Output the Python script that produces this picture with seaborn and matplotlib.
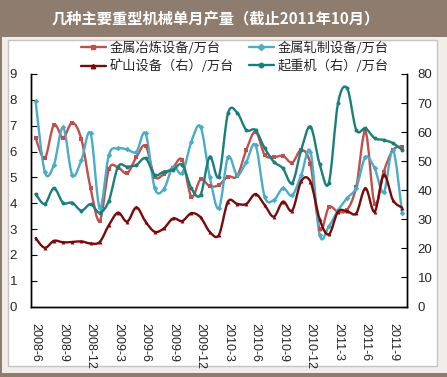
import numpy as np
import pandas as pd
import seaborn as sns
import matplotlib.pyplot as plt
from matplotlib.path import Path
from matplotlib.patches import PathPatch, Rectangle
from matplotlib.lines import Line2D

# monthly values, 2008-6 .. 2011-10
months = [f"{p.year}-{p.month}" for p in pd.period_range("2008-06", "2011-10", freq="M")]

smelting = [6.53, 5.74, 7.03, 6.53, 7.12, 6.47, 4.58, 3.32, 5.31, 5.38,
            5.16, 5.78, 6.22, 5.03, 5.12, 5.38, 5.68, 4.25, 4.92, 4.66,
            4.70, 5.03, 5.05, 6.06, 6.77, 5.87, 5.78, 5.83, 5.57, 6.06,
            5.50, 2.99, 3.84, 3.67, 3.74, 4.64, 6.77, 3.96, 5.22, 6.06, 6.19]
rolling = [7.95, 5.22, 5.48, 6.94, 5.09, 5.67, 6.70, 3.82, 5.87, 6.12,
           6.08, 5.99, 6.70, 4.58, 4.55, 5.41, 5.16, 6.38, 6.96, 5.03,
           3.80, 5.78, 5.09, 5.60, 6.25, 4.25, 4.12, 4.58, 4.30, 5.10,
           5.99, 2.77, 3.10, 3.72, 4.20, 4.60, 5.78, 5.35, 4.42, 6.06, 3.62]
mining = [23.5, 20.2, 22.6, 22.1, 22.2, 22.4, 21.7, 22.2, 28.0, 32.3,
          29.2, 34.1, 29.2, 25.7, 26.9, 30.3, 29.4, 32.1, 30.7, 25.7,
          24.6, 36.1, 35.3, 35.3, 38.7, 34.9, 30.9, 36.1, 33.0, 43.2,
          42.9, 30.0, 24.8, 32.6, 32.8, 32.1, 40.7, 32.6, 45.3, 36.6, 34.0]
crane = [38.7, 35.3, 40.7, 35.7, 35.7, 33.0, 35.2, 32.3, 36.4, 48.1,
         48.1, 48.7, 51.0, 45.3, 46.4, 47.0, 48.8, 40.7, 38.4, 51.5,
         44.7, 66.5, 66.7, 60.7, 60.7, 54.5, 49.8, 47.5, 42.5, 54.0,
         61.9, 49.0, 42.5, 69.9, 75.1, 60.7, 61.3, 57.9, 57.3, 56.2, 53.9]

labels = ["金属冶炼设备/万台", "金属轧制设备/万台", "矿山设备（右）/万台", "起重机（右）/万台"]
colors = ["#C0504D", "#4BACC6", "#7A0A0A", "#1A7F7C"]
markers = ["s", "D", "^", "o"]

df = pd.DataFrame({"month": months, "idx": np.arange(len(months)),
                   "smelting": smelting, "rolling": rolling,
                   "mining": mining, "crane": crane})


def smooth_patch(x, y, color):
    # Excel-like smoothed line: cubic bezier through every point
    x = np.asarray(x, float)
    y = np.asarray(y, float)
    pts = np.column_stack([x, y])
    ext = np.vstack([pts[0], pts, pts[-1]])
    verts = [pts[0]]
    codes = [Path.MOVETO]
    for i in range(len(pts) - 1):
        p0, p1, p2, p3 = ext[i], ext[i + 1], ext[i + 2], ext[i + 3]
        verts += [p1 + (p2 - p0) / 6, p2 - (p3 - p1) / 6, p2]
        codes += [Path.CURVE4] * 3
    return PathPatch(Path(verts, codes), fc="none", ec=color, lw=1.7,
                     capstyle="round", joinstyle="round")


sns.set_theme(style="white")
plt.rcParams["font.family"] = ["Liberation Sans", "Noto Sans CJK SC", "DejaVu Sans"]
cjk = ["Noto Sans CJK SC", "DejaVu Sans"]

fig = plt.figure(figsize=(4.47, 3.77), dpi=100)
fig.patch.set_facecolor("#f1eee9")
W, H = 447, 377
# frame pieces
fig.add_artist(Rectangle((0, 1 - 37 / H), 1, 37 / H, transform=fig.transFigure,
                         fc="#8e7c6e", ec="none", zorder=0))
fig.add_artist(Rectangle((8 / W, 1 - 366 / H), 429 / W, 326 / H, transform=fig.transFigure,
                         fc="white", ec="#c4c4c4", lw=1, zorder=0))
fig.add_artist(Rectangle((0, 0), 1, 4 / H, transform=fig.transFigure,
                         fc="#8e7c6e", ec="none", zorder=0))
fig.add_artist(Rectangle((0, 0), 2 / W, 1, transform=fig.transFigure,
                         fc="#8e7c6e", ec="none", zorder=0))

fig.text(216 / W, 1 - 19 / H, "几种主要重型机械单月产量（截止2011年10月）",
         color="white", fontsize=11, fontweight="bold", family=cjk,
         ha="center", va="center")

ax = fig.add_axes([31 / W, 1 - 306.5 / H, 375.7 / W, 232.5 / H])
ax.set_facecolor("none")
ax2 = ax.twinx()

for col, c, m in [("smelting", colors[0], markers[0]), ("rolling", colors[1], markers[1])]:
    ax.add_patch(smooth_patch(df["idx"], df[col], c))
    sns.scatterplot(data=df, x="idx", y=col, ax=ax, color=c, marker=m, s=8,
                    linewidth=0, zorder=3)
for col, c, m in [("mining", colors[2], markers[2]), ("crane", colors[3], markers[3])]:
    ax2.add_patch(smooth_patch(df["idx"], df[col], c))
    sns.scatterplot(data=df, x="idx", y=col, ax=ax2, color=c, marker=m, s=8,
                    linewidth=0, zorder=3)

ax.set_xlim(-0.5, len(months) - 0.5)
ax.set_ylim(0, 9)
ax2.set_ylim(0, 80)
ax.set_yticks(range(0, 10))
ax2.set_yticks(range(0, 81, 10))
ax.set_xticks(np.arange(-0.5, len(months), 1))
ax.set_xticklabels([])
ax.set_xticks(np.arange(0, len(months), 3), minor=True)
ax.set_xticklabels(months[::3], minor=True, rotation=270, fontsize=9)
ax.set_xlabel("")
ax.set_ylabel("")
ax2.set_ylabel("")

ax.tick_params(axis="x", which="major", direction="in", length=4, width=0.8, color="black")
ax.tick_params(axis="x", which="minor", length=0, pad=12)
ax.tick_params(axis="y", direction="in", length=4, width=0.8, color="black",
               labelsize=9.5, pad=10, left=True)
ax2.tick_params(axis="y", direction="in", length=4, width=0.8, color="black",
                labelsize=9.5, pad=8, right=True)

for a in (ax, ax2):
    a.spines["top"].set_visible(False)
    for s in ("left", "right", "bottom"):
        a.spines[s].set_color("black")
        a.spines[s].set_linewidth(1)

handles = [Line2D([], [], color=c, lw=1.7, marker=m, markersize=3.2)
           for c, m in zip(colors, markers)]
order = [0, 2, 1, 3]
fig.legend([handles[i] for i in order], [labels[i] for i in order],
           loc="center", bbox_to_anchor=(0.525, 0.848), ncol=2, frameon=False,
           prop={"family": cjk, "size": 9.5}, handlelength=1.9, handletextpad=0.3,
           columnspacing=1.1, labelspacing=0.35)

fig.savefig("out.png", dpi=100, facecolor=fig.get_facecolor())
